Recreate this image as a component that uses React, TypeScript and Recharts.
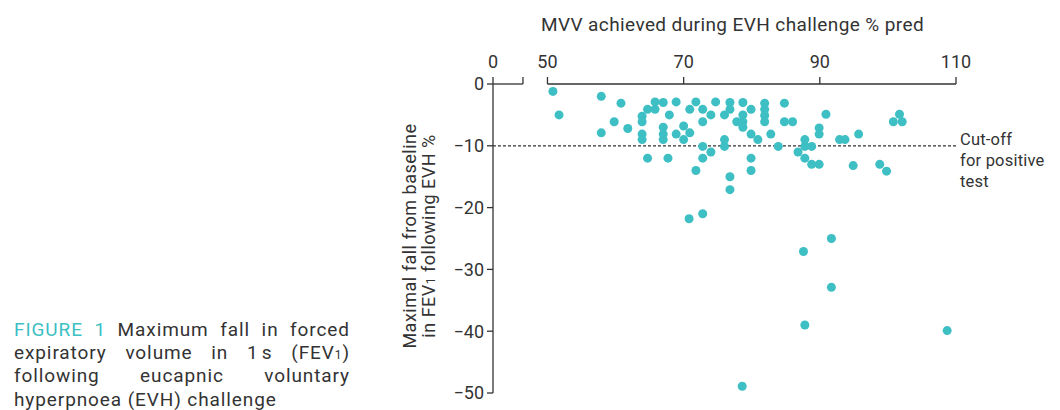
import { ScatterChart, Scatter, XAxis, YAxis, ReferenceLine } from 'recharts';

// MVV achieved during EVH challenge (% pred), one value per subject
const mvvPred = [
  50.8, 51.7, 57.9, 60.8, 59.8, 61.8, 57.9, 63.9, 63.9, 63.9,
  63.9, 64.7, 65.8, 65.8, 67.0, 67.9, 67.0, 67.0, 67.0, 68.9,
  68.9, 70.0, 70.0, 70.9, 70.9, 64.7, 67.7, 71.8, 71.8, 72.8,
  72.8, 74.0, 74.7, 72.8, 74.0, 72.8, 72.8, 70.8, 76.0, 76.8,
  76.8, 76.0, 76.0, 76.8, 76.8, 77.8, 78.7, 78.7, 78.7, 79.9,
  79.9, 79.9, 79.9, 80.9, 81.9, 81.9, 81.9, 81.9, 82.8, 83.9,
  84.8, 84.8, 86.0, 86.8, 87.8, 87.8, 88.8, 87.8, 88.8, 89.9,
  89.9, 89.9, 90.9, 92.9, 93.7, 95.7, 94.9, 98.8, 99.8, 100.8,
  101.7, 102.1, 91.7, 87.6, 91.7, 87.8, 108.7, 78.6, 78.7,
];

// Maximal fall from baseline in FEV1 following EVH (%), same order
const fev1Fall = [
  -1.2, -5.0, -2.0, -3.1, -6.1, -7.2, -7.9, -5.2, -6.1, -8.1,
  -9.0, -4.1, -2.9, -4.1, -3.0, -5.0, -7.0, -8.1, -9.0, -2.9,
  -8.1, -6.8, -9.0, -4.1, -7.9, -12.0, -12.0, -2.9, -14.0, -4.1,
  -6.1, -5.0, -2.9, -10.1, -11.0, -12.0, -21.0, -21.8, -5.0, -3.0,
  -4.1, -9.0, -10.1, -15.0, -17.1, -6.1, -3.0, -5.0, -7.0, -4.1,
  -8.1, -12.0, -14.0, -9.0, -3.1, -4.1, -5.1, -6.1, -8.1, -10.1,
  -3.1, -6.1, -6.1, -11.0, -9.0, -10.1, -10.1, -12.0, -13.0, -13.0,
  -7.1, -8.1, -4.9, -9.0, -9.0, -8.1, -13.2, -13.0, -14.1, -6.1,
  -4.9, -6.1, -25.0, -27.1, -32.9, -39.0, -39.9, -48.9, -6.1,
];

const yTicks = [0, -10, -20, -30, -40, -50];
const xTicks = [50, 70, 90, 110];
const cutOff = -10;

// the x axis is broken: its origin "0" is drawn just left of 50
const X_ORIGIN = 42;
const X_BREAK = 46.4;

const TEAL = '#3dbfc4';
const INK = '#333';
const FONT = 'Roboto, "Open Sans", sans-serif';

const points = mvvPred.map((mvv, i) => ({ mvv, fall: fev1Fall[i] }));

const fmtY = (v: number) => (v < 0 ? `\u2212${Math.abs(v)}` : '0');
const fmtX = (v: number) => (v === X_ORIGIN ? '0' : v === X_BREAK ? '' : String(v));

const captionLines = [
  'Maximum fall in forced',
  'expiratory volume in',
  'following eucapnic voluntary',
  'hyperpnoea (EVH) challenge',
];

export default function App() {
  const capStyle = {
    position: 'absolute' as const,
    left: 14,
    width: 336,
    fontSize: 19,
    lineHeight: '23px',
    color: INK,
    letterSpacing: 0.9,
    whiteSpace: 'nowrap' as const,
  };
  const just = { display: 'flex', justifyContent: 'space-between' };

  return (
    <div style={{ position: 'absolute', left: 0, top: 0, width: 1060, height: 410, background: '#fff', overflow: 'hidden', fontFamily: FONT }}>
      <ScatterChart width={1060} height={410} margin={{ top: 44, right: 104, bottom: 17, left: 433 }}>
        <XAxis
          type="number"
          dataKey="mvv"
          orientation="top"
          domain={[X_ORIGIN, 110]}
          ticks={[X_ORIGIN, X_BREAK, ...xTicks]}
          tickFormatter={fmtX}
          height={40}
          axisLine={false}
          tickLine={{ stroke: INK, strokeWidth: 1.3 }}
          tickSize={7}
          tickMargin={9}
          tick={{ fill: INK, fontSize: 18, fontFamily: FONT }}
        />
        <YAxis
          type="number"
          dataKey="fall"
          domain={[-50, 0]}
          ticks={yTicks}
          tickFormatter={fmtY}
          width={60}
          axisLine={{ stroke: INK, strokeWidth: 1.3 }}
          tickLine={{ stroke: INK, strokeWidth: 1.3 }}
          tickSize={6}
          tickMargin={3}
          tick={{ fill: INK, fontSize: 18, fontFamily: FONT }}
        />
        <ReferenceLine segment={[{ x: X_ORIGIN, y: 0 }, { x: X_BREAK, y: 0 }]} stroke={INK} strokeWidth={1.3} />
        <ReferenceLine segment={[{ x: 50, y: 0 }, { x: 110, y: 0 }]} stroke={INK} strokeWidth={1.3} />
        <ReferenceLine y={cutOff} stroke={INK} strokeWidth={1.2} strokeDasharray="3 2" />
        <Scatter
          data={points}
          isAnimationActive={false}
          shape={(p: any) => <circle cx={p.cx} cy={p.cy} r={4.5} fill={TEAL} />}
        />
      </ScatterChart>

      {/* top axis title */}
      <div style={{ position: 'absolute', left: 541, top: 14, fontSize: 19, lineHeight: '22px', color: INK, letterSpacing: 0.4, whiteSpace: 'nowrap' }}>
        MVV achieved during EVH challenge % pred
      </div>

      {/* y axis title, two rotated lines */}
      <div
        style={{
          position: 'absolute', left: 419 - 140, top: 236 - 19, width: 280, height: 38,
          transform: 'rotate(-90deg)', textAlign: 'center', fontSize: 18, lineHeight: '19px',
          letterSpacing: 0.5, color: INK, whiteSpace: 'nowrap',
        }}
      >
        <div>Maximal fall from baseline</div>
        <div>in FEV<span style={{ fontSize: 12 }}>1</span> following EVH %</div>
      </div>

      {/* cut-off note */}
      <div style={{ position: 'absolute', left: 960, top: 129, fontSize: 16.5, lineHeight: '21px', letterSpacing: 0.2, color: INK, whiteSpace: 'nowrap' }}>
        <div>Cut-off</div>
        <div>for positive</div>
        <div>test</div>
      </div>

      {/* caption */}
      <div style={{ ...capStyle, top: 318, ...just }}>
        <span style={{ color: TEAL }}>FIGURE</span><span style={{ color: TEAL }}>1</span>
        {captionLines[0].split(' ').map((w, i) => <span key={i}>{w}</span>)}
      </div>
      <div style={{ ...capStyle, top: 341, ...just }}>
        {captionLines[1].split(' ').map((w, i) => <span key={i}>{w}</span>)}
        <span>1&#8239;s</span>
        <span>(FEV<span style={{ fontSize: 12 }}>1</span>)</span>
      </div>
      <div style={{ ...capStyle, top: 364, ...just }}>
        {captionLines[2].split(' ').map((w, i) => <span key={i}>{w}</span>)}
      </div>
      <div style={{ ...capStyle, top: 388 }}>{captionLines[3]}</div>
    </div>
  );
}
